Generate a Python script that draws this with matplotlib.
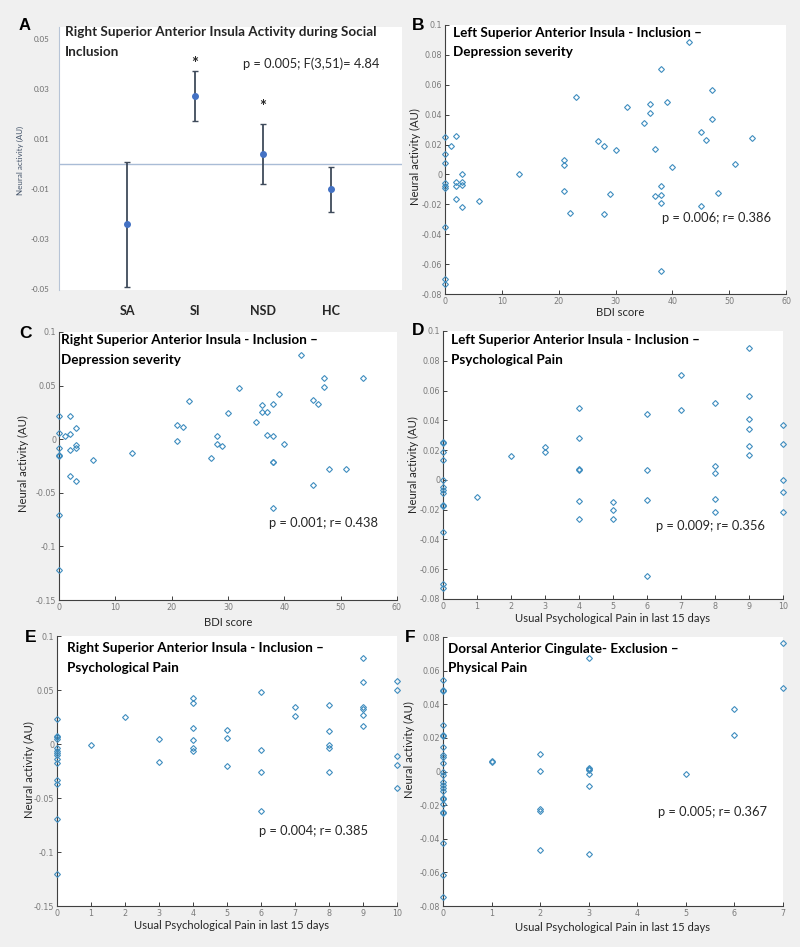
import matplotlib
matplotlib.use("Agg")
import matplotlib.pyplot as plt
import numpy as np

plt.rcParams['font.family'] = ['Lato', 'DejaVu Sans']

W, H = 800, 947

# Panel A: group means with error bars
groups = ["SA", "SI", "NSD", "HC"]
group_means = [-0.024, 0.027, 0.004, -0.010]
group_errs = [0.025, 0.010, 0.012, 0.009]
sig_groups = ["SI", "NSD"]
sig_y = [0.040, 0.023]

# Panel B: left insula (inclusion) vs BDI
bdi_b = [0, 0, 0, 0, 0, 0, 0, 0, 0, 1, 2, 2, 2, 2, 3, 3, 3, 3, 6, 13, 21, 21, 21, 22, 23, 27,
         28, 28, 29, 30, 32, 35, 36, 36, 37, 37, 38, 38, 38, 38, 38, 39, 40, 43, 45, 45, 46,
         47, 47, 48, 51, 54]
left_ins_bdi = [0.025, 0.0136, 0.0076, -0.0056, -0.0074, -0.009, -0.035, -0.070, -0.073,
                0.019, 0.026, -0.005, -0.008, -0.0165, 0.0, -0.005, -0.007, -0.022, -0.0176,
                0.0, 0.0094, 0.0065, -0.0114, -0.026, 0.0517, 0.0223, 0.019, -0.0263, -0.013,
                0.0165, 0.0448, 0.0343, 0.047, 0.041, 0.017, -0.0145, 0.0705, -0.008, -0.0138,
                -0.0194, -0.0645, 0.0486, 0.0051, 0.0883, 0.0286, -0.0214, 0.0228, 0.0564,
                0.037, -0.0127, 0.0071, 0.0245]

# Panel C: right insula (inclusion) vs BDI
bdi_c = [0, 0, 0, 0, 0, 0, 0, 1, 2, 2, 2, 2, 3, 3, 3, 3, 6, 13, 21, 21, 22, 23, 27, 28, 28,
         29, 30, 32, 35, 36, 36, 37, 37, 38, 38, 38, 38, 38, 39, 40, 43, 45, 45, 46, 47, 47,
         48, 51, 54]
right_ins_bdi = [0.0218, 0.0062, -0.0078, -0.015, -0.016, -0.071, -0.122, 0.0031, 0.0218,
                 0.005, -0.0103, -0.0346, 0.0109, -0.005, -0.0081, -0.039, -0.019, -0.0125,
                 0.0137, -0.0016, 0.0115, 0.0355, -0.0174, 0.0034, -0.0044, -0.0065, 0.024,
                 0.0473, 0.0159, 0.032, 0.0252, 0.0258, 0.004, 0.0333, 0.0028, -0.0209,
                 -0.0215, -0.0638, 0.042, -0.0047, 0.0785, 0.037, -0.0427, 0.0333, 0.0567,
                 0.0489, -0.0274, -0.0274, 0.0573]

# Panel D: left insula (inclusion) vs psychological pain
pain_d = [0, 0, 0, 0, 0, 0, 0, 0, 0, 0, 0, 0, 0, 1, 2, 3, 3, 4, 4, 4, 4, 4, 4, 5, 5, 5,
          6, 6, 6, 6, 7, 7, 8, 8, 8, 8, 8, 9, 9, 9, 9, 9, 9, 10, 10, 10, 10, 10]
left_ins_pain = [0.0253, 0.0248, 0.019, 0.0132, 0.0, -0.005, -0.007, -0.0085, -0.017, -0.0177,
                 -0.035, -0.070, -0.0728, -0.0114, 0.0163, 0.0222, 0.019, 0.0484, 0.0284,
                 0.0072, 0.0067, -0.0141, -0.0266, -0.0146, -0.02, -0.0262, 0.0445, 0.0069,
                 -0.0137, -0.0645, 0.0703, 0.0468, 0.0515, 0.0092, 0.0047, -0.013, -0.0219,
                 0.0886, 0.0562, 0.041, 0.0343, 0.0226, 0.0168, 0.0369, 0.0244, 0.0, -0.0081,
                 -0.0215]

# Panel E: right insula (inclusion) vs psychological pain
pain_e = [0, 0, 0, 0, 0, 0, 0, 0, 0, 0, 0, 0, 0, 0, 1, 2, 3, 3, 4, 4, 4, 4, 4, 4, 5, 5, 5,
          6, 6, 6, 6, 7, 7, 8, 8, 8, 8, 8, 9, 9, 9, 9, 9, 9, 10, 10, 10, 10, 10]
right_ins_pain = [0.0228, 0.0074, 0.0062, 0.0049, -0.004, -0.0062, -0.008, -0.0105, -0.0142,
                  -0.0179, -0.0333, -0.0373, -0.0694, -0.120, -0.0006, 0.025, 0.0046, -0.0167,
                  0.0429, 0.0377, 0.0145, 0.004, -0.0034, -0.0065, 0.0127, 0.0052, -0.02,
                  0.0481, -0.0052, -0.0259, -0.062, 0.0343, 0.0262, 0.0364, 0.0117, -0.0006,
                  -0.0034, -0.0259, 0.0793, 0.0574, 0.034, 0.0327, 0.0269, 0.0167, 0.0583,
                  0.0503, -0.0114, -0.0194, -0.041]

# Panel F: dorsal ACC (exclusion) vs physical pain
pain_f = [0, 0, 0, 0, 0, 0, 0, 0, 0, 0, 0, 0, 0, 0, 0, 0, 0, 0, 0, 0, 0, 0, 0, 0, 1, 1,
          2, 2, 2, 2, 2, 3, 3, 3, 3, 3, 3, 3, 5, 6, 6, 7, 7]
dacc_pain = [0.0547, 0.0483, 0.0477, 0.0275, 0.0216, 0.021, 0.0147, 0.0097, 0.0087, 0.0053,
             -0.0004, -0.0022, -0.0065, -0.0081, -0.0097, -0.0115, -0.0156, -0.0164, -0.0196,
             -0.024, -0.0246, -0.0428, -0.0616, -0.0745, 0.0061, 0.0055, 0.0105, 0.0002,
             -0.0226, -0.0232, -0.0469, 0.0675, 0.0022, 0.0014, 0.0006, -0.0014, -0.0087,
             -0.0493, -0.0016, 0.037, 0.0216, 0.0766, 0.0495]

BG = '#f0f0f0'
DOT = '#3f8dbf'
TICK_C = '#7a7a7a'
TXT = '#262626'
TITLE_FS = 9.7
STAT_FS = 9.3
LABEL_FS = 8.1
TITLE_LS = 1.75

fig = plt.figure(figsize=(W / 100, H / 100), dpi=100, facecolor=BG)


def add_ax(l, t, r, b):
    return fig.add_axes([l / W, 1 - b / H, (r - l) / W, (b - t) / H])


def ftext(x, y, s, **kw):
    return fig.text(x / W, 1 - y / H, s, **kw)


# ---------- panel A ----------
ax = add_ax(59, 27, 402, 290)
ax.set_facecolor('white')
pos = np.arange(1, len(groups) + 1)
ax.axhline(0, color='#a9bcd6', lw=1.0, zorder=1)
ax.errorbar(pos, group_means, yerr=group_errs, fmt='o', color='#4472c4', markersize=4,
            ecolor='#3f4b5b', elinewidth=1.3, capsize=2, capthick=1.0, zorder=3)
for g, sy in zip(sig_groups, sig_y):
    ax.text(groups.index(g) + 1, sy, '*', ha='center', va='center', fontsize=12,
            fontweight='bold', color=TXT)
ax.set_xlim(0, 5.04)
ax.set_ylim(-0.0504, 0.0548)
ax.set_yticks([0.05, 0.03, 0.01, -0.01, -0.03, -0.05])
ax.set_yticklabels(['0.05', '0.03', '0.01', '-0.01', '-0.03', '-0.05'])
ax.set_xticks(pos)
ax.set_xticklabels(groups, fontweight='bold', fontsize=9, color=TXT)
ax.tick_params(axis='y', length=0, pad=7, labelsize=5.8, labelcolor='#6b6b6b')
ax.tick_params(axis='x', length=0, pad=11)
for s in ['top', 'right', 'bottom']:
    ax.spines[s].set_visible(False)
ax.spines['left'].set_color('#b7c4d6')
ftext(65, 26, 'Right Superior Anterior Insula Activity during Social\nInclusion',
      fontsize=TITLE_FS, fontweight='bold', color=TXT, va='top', ha='left',
      linespacing=TITLE_LS)
ftext(243, 64, 'p = 0.005; F(3,51)= 4.84', fontsize=STAT_FS, color=TXT, va='center')
ftext(20, 160, 'Neural activity (AU)', fontsize=5.8, color='#44546a', rotation=90,
      ha='center', va='center')
ftext(25, 26, 'A', fontsize=12, fontweight='bold', color='black', ha='center', va='center',
      family='Liberation Sans')


def scatter_panel(box, x, y, xlim, ylim, xticks, yticks, title, title_xy, stat, stat_xy,
                  xlabel, xlabel_xy, ylabel_xy, letter, letter_xy):
    ax = add_ax(*box)
    ax.set_facecolor('white')
    ax.plot(x, y, linestyle='none', marker='D', markersize=3.0, mfc='none', mec=DOT,
            mew=0.8, clip_on=False, zorder=3)
    ax.set_xlim(*xlim)
    ax.set_ylim(*ylim)
    ax.set_xticks(xticks)
    ax.set_yticks(yticks)
    ax.set_xticklabels([f'{v:g}' for v in xticks], family='DejaVu Sans')
    ax.set_yticklabels([f'{v:g}' for v in yticks], family='DejaVu Sans')
    ax.tick_params(direction='in', length=3, width=0.7, color='#404040', labelsize=5.8,
                   labelcolor=TICK_C, pad=2)
    for s in ['top', 'right']:
        ax.spines[s].set_visible(False)
    for s in ['left', 'bottom']:
        ax.spines[s].set_color('#404040')
        ax.spines[s].set_linewidth(0.8)
    ftext(title_xy[0], title_xy[1], title, fontsize=TITLE_FS, fontweight='bold',
          color='black', va='top', ha='left', linespacing=TITLE_LS)
    ftext(stat_xy[0], stat_xy[1], stat, fontsize=STAT_FS, color=TXT, va='center', ha='left')
    ftext(xlabel_xy[0], xlabel_xy[1], xlabel, fontsize=LABEL_FS, color=TXT, ha='center',
          va='center')
    ftext(ylabel_xy[0], ylabel_xy[1], 'Neural activity (AU)', fontsize=LABEL_FS, color=TXT,
          rotation=90, ha='center', va='center')
    ftext(letter_xy[0], letter_xy[1], letter, fontsize=12.5, fontweight='bold', color='black',
          ha='center', va='center', family='Liberation Sans')
    return ax


ticks_bdi = [0, 10, 20, 30, 40, 50, 60]
ticks_pain10 = [0, 1, 2, 3, 4, 5, 6, 7, 8, 9, 10]
ticks_pain7 = [0, 1, 2, 3, 4, 5, 6, 7]
yt_small = [-0.08, -0.06, -0.04, -0.02, 0, 0.02, 0.04, 0.06, 0.08, 0.1]
yt_wide = [-0.15, -0.1, -0.05, 0, 0.05, 0.1]
yt_f = [-0.08, -0.06, -0.04, -0.02, 0, 0.02, 0.04, 0.06, 0.08]

scatter_panel((445, 25, 786, 294), bdi_b, left_ins_bdi, (0, 60), (-0.08, 0.1), ticks_bdi,
              yt_small, 'Left Superior Anterior Insula - Inclusion \u2013\nDepression severity',
              (453, 27), 'p = 0.006; r= 0.386', (662, 218), 'BDI score', (620, 313),
              (415, 157), 'B', (418, 26))
scatter_panel((59, 332, 397, 600), bdi_c, right_ins_bdi, (0, 60), (-0.15, 0.1), ticks_bdi,
              yt_wide, 'Right Superior Anterior Insula - Inclusion \u2013\nDepression severity',
              (61, 334), 'p = 0.001; r= 0.438', (269, 523), 'BDI score', (228, 622),
              (23, 464), 'C', (26, 333))
scatter_panel((443, 331, 783, 599), pain_d, left_ins_pain, (0, 10), (-0.08, 0.1), ticks_pain10,
              yt_small, 'Left Superior Anterior Insula - Inclusion \u2013\nPsychological Pain',
              (451, 334), 'p = 0.009; r= 0.356', (656, 526),
              'Usual Psychological Pain in last 15 days', (613, 619), (413, 465), 'D', (418, 330))
scatter_panel((57, 636, 397, 906), pain_e, right_ins_pain, (0, 10), (-0.15, 0.1), ticks_pain10,
              yt_wide, 'Right Superior Anterior Insula - Inclusion \u2013\nPsychological Pain',
              (67, 642), 'p = 0.004; r= 0.385', (259, 831),
              'Usual Psychological Pain in last 15 days', (232, 925), (29, 770), 'E', (31, 638))
scatter_panel((443, 637, 783, 906), pain_f, dacc_pain, (0, 7), (-0.08, 0.08), ticks_pain7,
              yt_f, 'Dorsal Anterior Cingulate- Exclusion \u2013\nPhysical Pain',
              (448, 643), 'p = 0.005; r= 0.367', (658, 812),
              'Usual Psychological Pain in last 15 days', (613, 927), (409, 750), 'F', (410, 637))

fig.savefig('out.png', dpi=100, facecolor=BG)
